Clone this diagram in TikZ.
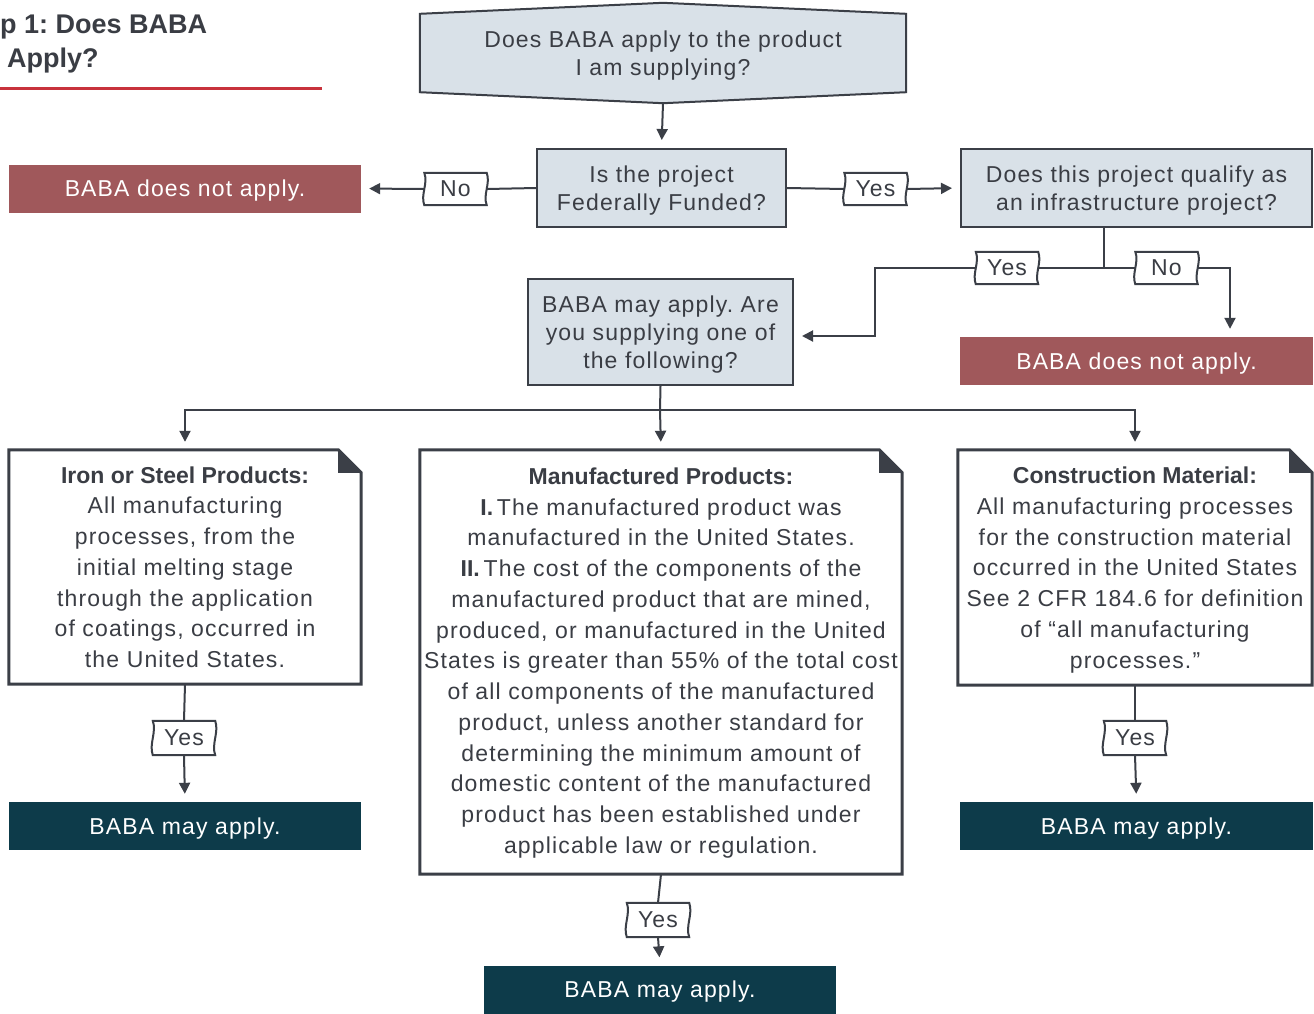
\documentclass[tikz,border=0pt]{standalone}
\usepackage{fontspec}
\setmainfont[LetterSpace=5, BoldFeatures={LetterSpace=0}]{Liberation Sans}
\newfontfamily\titlefont{Liberation Sans}
\usetikzlibrary{arrows.meta,calc}
\definecolor{txt}{HTML}{3A3D44}
\definecolor{edge}{HTML}{3B3F47}
\definecolor{qfill}{HTML}{D9E1E8}
\definecolor{redc}{HTML}{A0585B}
\definecolor{tealc}{HTML}{0D3B4A}
\definecolor{titlered}{HTML}{C8323C}
\frenchspacing
\newcommand\wavybox[1]{%
  \draw[line, fill=white] (#1.north west) -- (#1.north east)
    .. controls ($(#1.north east)!0.33!(#1.south east)+(4,0)$) and ($(#1.north east)!0.67!(#1.south east)+(-4,0)$) .. (#1.south east)
    -- (#1.south west)
    .. controls ($(#1.north west)!0.67!(#1.south west)+(-4,0)$) and ($(#1.north west)!0.33!(#1.south west)+(4,0)$) .. (#1.north west) -- cycle;
  \node[lbltext] at (#1.center) {\csname lbl@#1\endcsname};}
\newcommand\docoutline[1]{%
  \draw[docline] ([xshift=-23pt]#1.north east) -- (#1.north west) -- (#1.south west) -- (#1.south east) -- ([yshift=-23pt]#1.north east) -- cycle;
  \fill[edge] ([xshift=-23pt]#1.north east) -- ([xshift=-23pt,yshift=-23pt]#1.north east) -- ([yshift=-23pt]#1.north east) -- cycle;}
\begin{document}
\begin{tikzpicture}[x=1pt,y=-1pt,
  font=\fontsize{23}{28}\selectfont,
  every node/.append style={text depth=0pt},
  line/.style={draw=edge, line width=2pt},
  arr/.style={line, -{Triangle[length=11pt,width=11pt]}, shorten >=8pt},
  docline/.style={draw=edge, line width=3pt, fill=white},
  qbox/.style={draw=edge, line width=2pt, fill=qfill, text=txt, inner sep=0pt, align=center},
  redbox/.style={fill=redc, text=white, minimum width=352pt, minimum height=48pt, inner sep=0pt},
  tealbox/.style={fill=tealc, text=white, minimum width=352pt, minimum height=48pt, inner sep=0pt},
  docbox/.style={text=txt, inner sep=0pt, align=center, font=\fontsize{23}{30.75}\selectfont},
  lbl/.style={minimum width=62pt, minimum height=32pt, inner sep=0pt},
  lbltext/.style={text=txt, inner sep=0pt},
  ttl/.style={anchor=base west, inner sep=0pt, text=txt, font=\titlefont\bfseries\fontsize{27}{34}\selectfont}
]
\useasboundingbox (0,0) rectangle (1314,1013);

% title
\node[ttl] (t1) at (0,33) {p 1: Does BABA};
\node[ttl] (t2) at (7,67) {Apply?};
\draw[titlered, line width=3pt] (0,88) -- (322,88);

% top question
\node[text=txt, align=center, minimum width=486pt, minimum height=78pt, inner sep=0pt] (q0) at (663,53) {};
\draw[qbox] (q0.north west) -- ([yshift=11pt]q0.north) -- (q0.north east) -- (q0.south east) -- ([yshift=-11pt]q0.south) -- (q0.south west) -- cycle;
\node[text=txt, align=center] at (q0.center) {Does BABA apply to the product\\I am supplying?};
\coordinate (q0b) at ([yshift=-11pt]q0.south);

\node[qbox, minimum width=249pt, minimum height=78pt] (q1) at (661.5,188) {Is the project\\Federally Funded?};
\node[qbox, minimum width=351pt, minimum height=78pt] (q2) at (1136.5,188) {Does this project qualify as\\an infrastructure project?};
\node[qbox, minimum width=265pt, minimum height=106pt] (q3) at (660.5,332) {BABA may apply. Are\\you supplying one of\\the following?};

\node[redbox] (r1) at (185,188.5) {BABA does not apply.};
\node[redbox, minimum width=353pt] (r2) at (1136.5,361) {BABA does not apply.};

% documents
\node[docbox, minimum width=352pt, minimum height=234pt] (d1) at (185,567) {};
\node[docbox, minimum width=482pt, minimum height=424pt] (d2) at (661,662) {};
\node[docbox, minimum width=354pt, minimum height=235pt] (d3) at (1135,567.5) {};
\docoutline{d1}\docoutline{d2}\docoutline{d3}
\node[docbox] at (d1.center) {\textbf{Iron or Steel Products:}\\All manufacturing\\processes, from the\\initial melting stage\\through the application\\of coatings, occurred in\\the United States.};
\node[docbox] at ([yshift=1.5pt]d2.center) {\textbf{Manufactured Products:}\\\textbf{I.}\,The manufactured product was\\manufactured in the United States.\\\textbf{II.}\,The cost of the components of the\\manufactured product that are mined,\\produced, or manufactured in the United\\States is greater than 55\% of the total cost\\of all components of the manufactured\\product, unless another standard for\\determining the minimum amount of\\domestic content of the manufactured\\product has been established under\\applicable law or regulation.};
\node[docbox] at (d3.center) {\textbf{Construction Material:}\\All manufacturing processes\\for the construction material\\occurred in the United States\\See 2 CFR 184.6 for definition\\of “all manufacturing\\processes.”};

\node[tealbox] (g1) at (185,826) {BABA may apply.};
\node[tealbox, minimum width=353pt] (g3) at (1136.5,826) {BABA may apply.};
\node[tealbox] (g2) at (660,989.5) {BABA may apply.};

% labels
\node[lbl] (noA) at (455.5,189) {};
\node[lbl] (yesA) at (875.5,189) {};
\node[lbl] (yesB) at (1007,268) {};
\node[lbl] (noB) at (1166.5,268) {};
\node[lbl, minimum height=34pt] (yes1) at (184,738) {};
\node[lbl, minimum height=34pt] (yes3) at (1135,738) {};
\node[lbl, minimum height=34pt] (yes2) at (658,920) {};

\coordinate (j1) at (1104,268);
\coordinate (c1) at (875,268);
\coordinate (c2) at (1230,268);
\coordinate (hb) at (660,410);

% connectors
\draw[arr] (q0b) -- (q1.north);
\draw[line] (q1.west) -- (noA.east);
\draw[arr] (noA.west) -- (r1.east);
\draw[line] (q1.east) -- (yesA.west);
\draw[arr] (yesA.east) -- (q2.west);
\draw[line] (q2.south -| j1) -- (j1);
\draw[line] (yesB.east) -- (noB.west);
\draw[arr] (yesB.west) -- (c1) |- ([yshift=-4pt]q3.east);
\draw[arr] (noB.east) -- (c2) -- (r2.north -| c2);
\draw[line] (q3.south) -- (hb);
\draw[arr] (hb) -| (d1.north);
\draw[arr] (hb) -- (d2.north);
\draw[arr] (hb) -| (d3.north);
\draw[line] (d1.south) -- (yes1.north);
\draw[arr] (yes1.south) -- (g1.north);
\draw[line] (d3.south) -- (yes3.north);
\draw[arr] (yes3.south) -- (g3.north);
\draw[line] (d2.south) -- (yes2.north);
\draw[arr] (yes2.south) -- (g2.north);

\makeatletter
\expandafter\def\csname lbl@noA\endcsname{No}
\expandafter\def\csname lbl@yesA\endcsname{Yes}
\expandafter\def\csname lbl@yesB\endcsname{Yes}
\expandafter\def\csname lbl@noB\endcsname{No}
\expandafter\def\csname lbl@yes1\endcsname{Yes}
\expandafter\def\csname lbl@yes2\endcsname{Yes}
\expandafter\def\csname lbl@yes3\endcsname{Yes}
\makeatother
\wavybox{noA}\wavybox{yesA}\wavybox{yesB}\wavybox{noB}\wavybox{yes1}\wavybox{yes2}\wavybox{yes3}
\end{tikzpicture}
\end{document}
